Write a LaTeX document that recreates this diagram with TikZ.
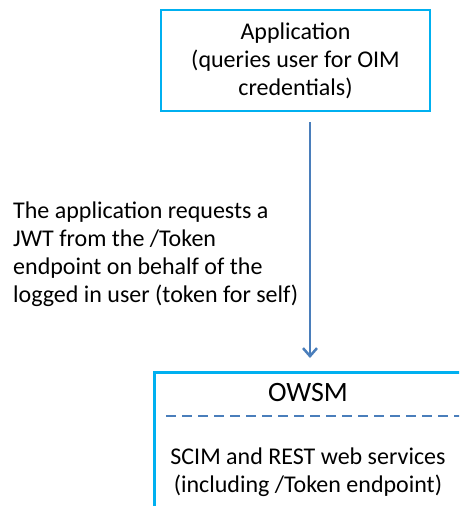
\documentclass[tikz,border=0pt]{standalone}
\usepackage{fontspec}
\setmainfont{Carlito}
\usetikzlibrary{arrows.meta}
\definecolor{boxcyan}{HTML}{00B0F0}
\definecolor{flowblue}{HTML}{4A7EBB}
\begin{document}
\begin{tikzpicture}[x=1pt, y=-1pt,
  every node/.style={font=\fontsize{24}{28}\selectfont, inner sep=0pt},
  box/.style={draw=boxcyan, line width=2.5pt, align=center},
  flow/.style={draw=flowblue, line width=2.5pt, -{Straight Barb[length=8pt,width=14pt]}},
  sepline/.style={draw=flowblue, line width=2.5pt, dash pattern=on 10pt off 6pt}]
  \useasboundingbox (0,0) rectangle (459,506);
  \clip (0,0) rectangle (459,506);
  % boxes
  \node[box, minimum width=269pt, minimum height=101pt] (app) at (295.5,60.5)
    {Application\\(queries user for OIM\\credentials)};
  \node[box, minimum width=330pt, minimum height=170pt, anchor=north west] (owsm) at (153,371) {};
  \node[font=\fontsize{28}{32}\selectfont] (owsmtitle) at (308,393) {OWSM};
  \node[align=center] (services) at (308,472.5) {SCIM and REST web services\\(including /Token endpoint)};
  \coordinate (sep) at (0,416);
  \draw[sepline] ([xshift=13pt]owsm.west |- sep) -- (owsm.east |- sep);
  % request
  \coordinate (src) at (310,122);
  \coordinate (dst) at (310,358);
  \draw[flow] (src) -- (dst);
  \node[align=left, anchor=west] (request) at (13,254.5)
    {The application requests a\\JWT from the /Token\\endpoint on behalf of the\\logged in user (token for self)};
\end{tikzpicture}
\end{document}
